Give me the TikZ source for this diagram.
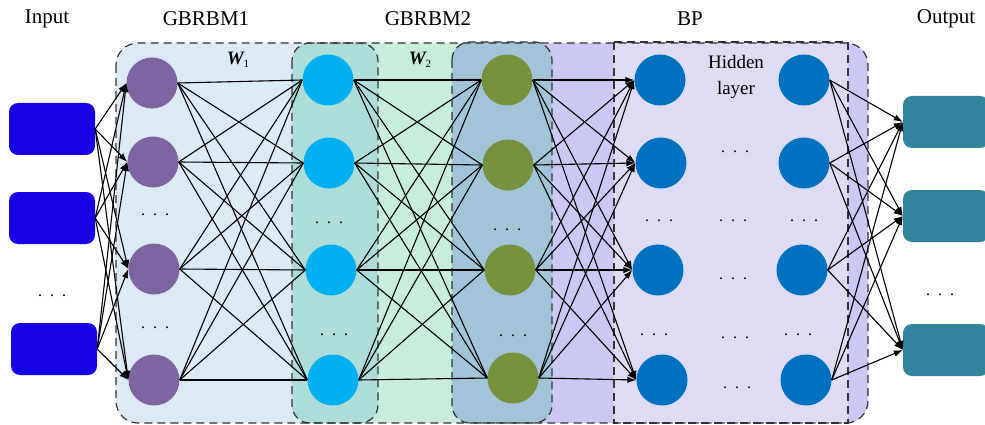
\documentclass[tikz,border=0pt]{standalone}
\usepackage{fontspec}
\setmainfont{Liberation Serif}
\usetikzlibrary{arrows.meta}

\definecolor{inblue}{RGB}{22,0,228}
\definecolor{outteal}{RGB}{49,132,155}
\definecolor{npurple}{RGB}{126,100,160}
\definecolor{ncyan}{RGB}{0,176,240}
\definecolor{ngreen}{RGB}{118,146,60}
\definecolor{nblue}{RGB}{0,112,192}
\definecolor{bgblue}{RGB}{220,234,246}
\definecolor{bgteal}{RGB}{174,220,216}
\definecolor{bggreen}{RGB}{198,238,218}
\definecolor{bgsteel}{RGB}{160,196,216}
\definecolor{bgpurple}{RGB}{204,200,246}
\definecolor{bglav}{RGB}{222,220,244}

\newcommand{\dotrow}{.\hspace{8pt}.\hspace{8pt}.}

\tikzset{
  unitbox/.style={rounded corners=9pt, minimum width=86pt, minimum height=52pt, inner sep=0pt},
  inbox/.style={unitbox, fill=inblue},
  outbox/.style={unitbox, fill=outteal},
  neuron/.style={circle, minimum size=51pt, inner sep=0pt},
  link/.style={line width=1.1pt, black},
  arrowlink/.style={link, -{Latex[length=9pt,width=6.5pt]}},
  region/.style={draw=black!80, dash pattern=on 8pt off 5pt, line width=1.2pt},
  heading/.style={font=\fontsize{21}{25}\selectfont},
  dotsnode/.style={anchor=base, inner sep=0pt, font=\fontsize{16}{16}\selectfont},
  wlabel/.style={font=\fontsize{19}{22}\selectfont\bfseries\itshape}
}

\begin{document}
\begin{tikzpicture}[x=1pt,y=-1pt]
\clip (0,0) rectangle (985,425);
\useasboundingbox (0,0) rectangle (985,425);

% coloured bands of the network body
\fill[bgpurple, rounded corners=22pt] (116,43) rectangle (868,423);
\begin{scope}
  \clip[rounded corners=22pt] (116,43) rectangle (868,423);
  \fill[bgblue] (116,43) rectangle (335,423);
  \fill[bggreen] (335,43) rectangle (500,423);
\end{scope}
\draw[region, fill=bgteal, rounded corners=18pt] (292,43) rectangle (378,423);
\draw[region, fill=bgsteel, rounded corners=18pt] (452,42) rectangle (552,423);
\draw[region, fill=bglav] (614,42) rectangle (848,423);
\draw[region, rounded corners=22pt] (116,43) rectangle (868,423);

% headings
\node[heading] (tin) at (47,19) {Input};
\node[heading] (tg1) at (206,19) {GBRBM1};
\node[heading] (tg2) at (428,19) {GBRBM2};
\node[heading] (tbp) at (690,19) {BP};
\node[heading] (tout) at (946,19) {Output};

% input and output units
\node[inbox] (in1) at (52,129) {};
\node[inbox] (in2) at (52,218) {};
\node[inbox] (in3) at (54,349) {};
\node[outbox] (o1) at (946,122) {};
\node[outbox] (o2) at (946,216) {};
\node[outbox] (o3) at (946,350) {};

% neuron columns
\node[neuron, fill=npurple] (p1) at (152,83) {};
\node[neuron, fill=npurple] (p2) at (153,162) {};
\node[neuron, fill=npurple] (p3) at (154,269) {};
\node[neuron, fill=npurple] (p4) at (154,380) {};

\node[neuron, fill=ncyan] (c1) at (328,80) {};
\node[neuron, fill=ncyan] (c2) at (329,163) {};
\node[neuron, fill=ncyan] (c3) at (331,270) {};
\node[neuron, fill=ncyan] (c4) at (333,380) {};

\node[neuron, fill=ngreen] (g1) at (507,80) {};
\node[neuron, fill=ngreen] (g2) at (508,165) {};
\node[neuron, fill=ngreen] (g3) at (510,270) {};
\node[neuron, fill=ngreen] (g4) at (513,378) {};

\node[neuron, fill=nblue] (h1) at (660,80) {};
\node[neuron, fill=nblue] (h2) at (661,163) {};
\node[neuron, fill=nblue] (h3) at (658,270) {};
\node[neuron, fill=nblue] (h4) at (662,380) {};

\node[neuron, fill=nblue] (k1) at (804,80) {};
\node[neuron, fill=nblue] (k2) at (804,163) {};
\node[neuron, fill=nblue] (k3) at (802,270) {};
\node[neuron, fill=nblue] (k4) at (806,380) {};

% connections
\foreach \i in {1,2,3}
  \foreach \j in {1,...,4}
    \draw[arrowlink] (in\i.east) -- (p\j.west);
\foreach \i in {1,...,4}
  \foreach \j in {1,...,4} {
    \draw[link] (p\i.east) -- (c\j.west);
    \draw[link] (c\i.east) -- (g\j.west);
    \draw[arrowlink] (g\i.east) -- (h\j.west);
  }
\foreach \i in {1,...,4}
  \foreach \j in {1,2,3}
    \draw[arrowlink] (k\i.east) -- (o\j.west);

% weight labels
\node[wlabel] (w1) at (238,60) {W\raisebox{-3pt}{\fontsize{11}{11}\selectfont\mdseries\upshape 1}};
\node[wlabel] (w2) at (420,60) {W\raisebox{-3pt}{\fontsize{11}{11}\selectfont\mdseries\upshape 2}};
\node[font=\fontsize{19}{26}\selectfont, align=center] (hid) at (736,77) {Hidden\\layer};

% ellipses
\node[dotsnode] (d0) at (52,296) {\dotrow};
\node[dotsnode] (d1) at (155,215) {\dotrow};
\node[dotsnode] (d2) at (155,328) {\dotrow};
\node[dotsnode] (d3) at (329,223) {\dotrow};
\node[dotsnode] (d4) at (334,335) {\dotrow};
\node[dotsnode] (d5) at (507,230) {\dotrow};
\node[dotsnode] (d6) at (513,336) {\dotrow};
\node[dotsnode] (d7) at (659,221) {\dotrow};
\node[dotsnode] (d8) at (654,335) {\dotrow};
\node[dotsnode] (d9) at (735,153) {\dotrow};
\node[dotsnode] (d10) at (733,221) {\dotrow};
\node[dotsnode] (d11) at (733,279) {\dotrow};
\node[dotsnode] (d12) at (735,338) {\dotrow};
\node[dotsnode] (d13) at (737,388) {\dotrow};
\node[dotsnode] (d14) at (804,221) {\dotrow};
\node[dotsnode] (d15) at (798,335) {\dotrow};
\node[dotsnode] (d16) at (940,295) {\dotrow};
\end{tikzpicture}
\end{document}
